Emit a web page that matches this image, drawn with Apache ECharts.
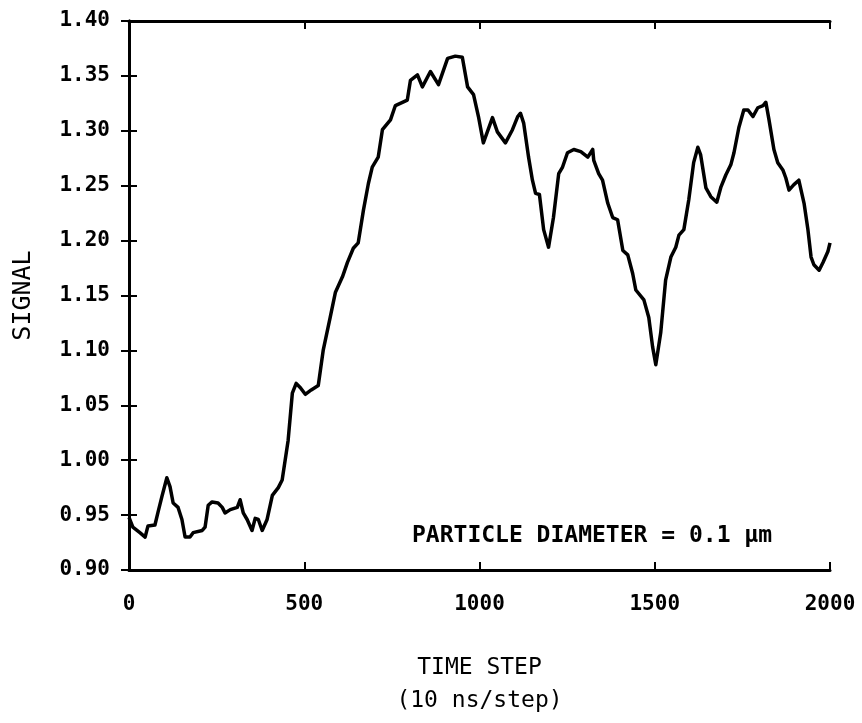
<!DOCTYPE html>
<html>
<head>
<meta charset="utf-8">
<script src="https://cdn.jsdelivr.net/npm/echarts@6/dist/echarts.min.js"></script>
<style>
  html, body { margin: 0; padding: 0; background: #fff; }
  #chart { width: 862px; height: 723px; }
</style>
</head>
<body>
<div id="chart"></div>
<script>
// Time step (10 ns/step) of each sample
const steps = [
  0, 11, 31, 46, 54, 74, 83, 94, 108, 117, 126, 140, 151, 160, 174, 183, 209, 217,
  226, 237, 254, 266, 274, 289, 309, 317, 326, 337, 351, 360, 369, 380, 394, 409,
  426, 437, 454, 466, 477, 489, 503, 520, 540, 554, 574, 589, 609, 623, 640, 654,
  669, 683, 694, 711, 723, 746, 760, 794, 803, 823, 837, 860, 883, 909, 931, 951,
  966, 983, 997, 1011, 1037, 1051, 1074, 1094, 1109, 1117, 1126, 1140, 1151, 1160,
  1171, 1183, 1197, 1211, 1226, 1237, 1251, 1269, 1289, 1309, 1323, 1326, 1340,
  1351, 1366, 1380, 1394, 1409, 1423, 1437, 1446, 1469, 1483, 1494, 1503, 1517,
  1531, 1546, 1560, 1569, 1583, 1597, 1611, 1623, 1631, 1646, 1660, 1677, 1689,
  1703, 1717, 1726, 1740, 1754, 1766, 1780, 1794, 1809, 1817, 1826, 1840, 1851,
  1866, 1874, 1883, 1897, 1911, 1926, 1937, 1946, 1954, 1969, 1980, 1994, 2000
];

// Measured signal at each time step
const signal = [
  0.948, 0.939, 0.934, 0.930, 0.940, 0.941, 0.953, 0.967, 0.984, 0.976, 0.961, 0.957,
  0.946, 0.930, 0.930, 0.934, 0.936, 0.939, 0.959, 0.962, 0.961, 0.957, 0.952, 0.955,
  0.957, 0.964, 0.952, 0.946, 0.936, 0.947, 0.946, 0.936, 0.946, 0.968, 0.975, 0.982,
  1.018, 1.061, 1.070, 1.066, 1.060, 1.064, 1.068, 1.100, 1.130, 1.153, 1.167, 1.180,
  1.193, 1.198, 1.228, 1.252, 1.267, 1.276, 1.301, 1.310, 1.323, 1.328, 1.346, 1.351,
  1.340, 1.354, 1.342, 1.366, 1.368, 1.367, 1.340, 1.333, 1.313, 1.289, 1.312, 1.299,
  1.289, 1.301, 1.313, 1.316, 1.307, 1.276, 1.255, 1.243, 1.242, 1.210, 1.194, 1.221,
  1.261, 1.267, 1.280, 1.283, 1.281, 1.276, 1.283, 1.273, 1.261, 1.255, 1.234, 1.221,
  1.219, 1.191, 1.187, 1.170, 1.155, 1.146, 1.130, 1.103, 1.087, 1.116, 1.164, 1.185,
  1.194, 1.205, 1.210, 1.237, 1.271, 1.285, 1.278, 1.248, 1.240, 1.235, 1.249, 1.260,
  1.269, 1.280, 1.303, 1.319, 1.319, 1.313, 1.321, 1.323, 1.326, 1.310, 1.283, 1.271,
  1.264, 1.257, 1.246, 1.251, 1.255, 1.234, 1.210, 1.185, 1.178, 1.173, 1.180, 1.190,
  1.198
];

// Axis ranges and tick spacing
const xMin = 0, xMax = 2000, xStep = 500;
const yMin = 0.90, yMax = 1.40, yStep = 0.05;

const labelFont = {
  fontFamily: 'DejaVu Sans Mono',
  fontWeight: 'bold',
  fontSize: 21,
  color: '#000'
};
const lineStyle = { color: '#000', width: 3 };
const tickStyle = { show: true, inside: true, length: 8, lineStyle: { color: '#000', width: 2 } };

const chart = echarts.init(document.getElementById('chart'), null, { renderer: 'canvas' });

chart.setOption({
  animation: false,
  backgroundColor: '#fff',
  grid: {
    left: 129, right: 32, top: 21, bottom: 153,
    containLabel: false, outerBoundsMode: 'none'
  },
  xAxis: [
    {
      type: 'value', min: xMin, max: xMax, interval: xStep, position: 'bottom',
      axisLine: { show: true, lineStyle: lineStyle },
      axisTick: tickStyle,
      splitLine: { show: false },
      axisLabel: Object.assign({ margin: 24, formatter: v => String(v) }, labelFont),
      name: 'TIME STEP\n(10 ns/step)',
      nameLocation: 'middle',
      nameGap: 82,
      nameTextStyle: {
        fontFamily: 'DejaVu Sans Mono', fontSize: 23, color: '#000', lineHeight: 33
      }
    },
    {
      type: 'value', min: xMin, max: xMax, interval: xStep, position: 'top',
      axisLine: { show: true, lineStyle: lineStyle },
      axisTick: tickStyle,
      splitLine: { show: false },
      axisLabel: { show: false }
    }
  ],
  yAxis: [
    {
      type: 'value', min: yMin, max: yMax, interval: yStep, position: 'left',
      axisLine: { show: true, lineStyle: lineStyle },
      axisTick: tickStyle,
      splitLine: { show: false },
      axisLabel: Object.assign({
        margin: 19,
        formatter: v => v.toFixed(2)
      }, labelFont),
      name: 'SIGNAL',
      nameLocation: 'middle',
      nameGap: 93,
      nameRotate: 90,
      nameTextStyle: { fontFamily: 'DejaVu Sans Mono', fontSize: 25, color: '#000' }
    },
    {
      type: 'value', min: yMin, max: yMax, interval: yStep, position: 'right',
      axisLine: { show: true, lineStyle: lineStyle },
      axisTick: tickStyle,
      splitLine: { show: false },
      axisLabel: { show: false }
    }
  ],
  series: [
    {
      type: 'line',
      data: steps.map((s, i) => [s, signal[i]]),
      showSymbol: false,
      smooth: false,
      lineStyle: { color: '#000', width: 3.5, join: 'round' }
    }
  ],
  graphic: [
    {
      type: 'text',
      left: 412,
      top: 525,
      style: {
        text: 'PARTICLE DIAMETER = 0.1 μm',
        font: 'bold 23px "DejaVu Sans Mono"',
        fill: '#000'
      }
    }
  ]
});
</script>
</body>
</html>
